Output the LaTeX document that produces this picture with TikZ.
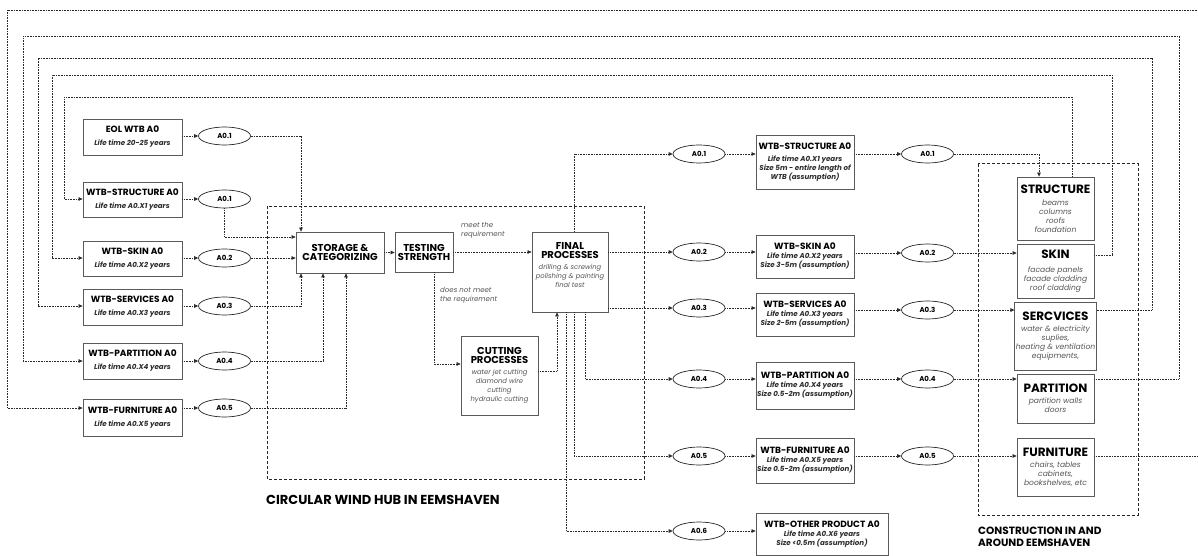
\documentclass[tikz,border=0pt]{standalone}
\usepackage{fontspec}
\setmainfont{Poppins}
\usetikzlibrary{arrows.meta,shapes.geometric}
\definecolor{frame}{HTML}{5A5A5A}
\definecolor{subtxt}{HTML}{2E2E2E}
\definecolor{desctxt}{HTML}{555555}
\definecolor{linecol}{HTML}{2A2A2A}
% one-line text helpers for the boxes
\newcommand\wtitle[1]{{\fontsize{9}{10}\selectfont\bfseries #1}}
\newcommand\wsub[1]{{\color{subtxt}\bfseries\itshape #1}}
\newcommand\ptitle[1]{{\fontsize{10}{11}\selectfont\bfseries #1}}
\newcommand\pdesc[1]{{\color{desctxt}\itshape #1}}
\newcommand\ctitle[1]{{\fontsize{12}{13}\selectfont\bfseries #1}}
\begin{document}
\begin{tikzpicture}[x=1pt,y=-1pt,
  wbox/.style={draw=frame,line width=0.8pt,fill=white,align=center,inner sep=1pt,
    font=\fontsize{7.1}{9}\selectfont},
  pbox/.style={wbox,font=\fontsize{6.8}{9}\selectfont},
  cbox/.style={wbox,minimum width=77pt,font=\fontsize{7.6}{9}\selectfont},
  oval/.style={ellipse,draw=black!85,line width=0.7pt,fill=white,inner sep=0pt,
    minimum width=52pt,minimum height=18pt,font=\fontsize{7}{8}\selectfont\bfseries},
  flow/.style={draw=linecol,line width=0.75pt,dash pattern=on 0.8pt off 0.8pt,
    -{Triangle[length=4pt,width=3.6pt]}},
  zone/.style={draw=black!85,line width=1pt,dash pattern=on 3pt off 2pt},
  note/.style={align=left,inner sep=0pt,text=desctxt,font=\fontsize{7}{9}\selectfont\itshape},
  zonelbl/.style={align=left,inner sep=0pt,font=\fontsize{13}{14}\selectfont\bfseries},
]
\useasboundingbox (0,0) rectangle (1198,556);

% ---------- zones ----------
\draw[zone] (267,206) rectangle (644,479);
\draw[zone] (978,164) rectangle (1138,515);
\node[zonelbl,anchor=west] (hublbl) at (266,500) {CIRCULAR WIND HUB IN EEMSHAVEN};
\node[zonelbl,anchor=north west,font=\fontsize{10.5}{12}\selectfont\bfseries] (conlbl) at (978,527) {CONSTRUCTION IN AND\\AROUND EEMSHAVEN};

% ---------- incoming components ----------
\node[wbox,minimum width=99pt,minimum height=36pt] (eol) at (132.5,137) {\wtitle{EOL WTB A0}\\[4pt]\wsub{Life time 20-25 years}};
\node[wbox,minimum width=99pt,minimum height=35pt] (ls) at (132.5,199.5) {\wtitle{WTB-STRUCTURE A0}\\[4pt]\wsub{Life time A0.X1 years}};
\node[wbox,minimum width=99pt,minimum height=35pt] (lk) at (132.5,258.5) {\wtitle{WTB-SKIN A0}\\[4pt]\wsub{Life time A0.X2 years}};
\node[wbox,minimum width=99pt,minimum height=36pt] (lv) at (132.5,307) {\wtitle{WTB-SERVICES A0}\\[4pt]\wsub{Life time A0.X3 years}};
\node[wbox,minimum width=99pt,minimum height=36pt] (lp) at (132.5,361) {\wtitle{WTB-PARTITION A0}\\[4pt]\wsub{Life time A0.X4 years}};
\node[wbox,minimum width=99pt,minimum height=37pt] (lf) at (132.5,417.5) {\wtitle{WTB-FURNITURE A0}\\[4pt]\wsub{Life time A0.X5 years}};

\node[oval] (e1) at (224.5,136) {A0.1};
\node[oval] (e2) at (224.5,199) {A0.1};
\node[oval] (e3) at (224.5,258) {A0.2};
\node[oval] (e4) at (224.5,306) {A0.3};
\node[oval] (e5) at (224.5,361) {A0.4};
\node[oval] (e6) at (224.5,408) {A0.5};

% ---------- hub processes ----------
\node[wbox,minimum width=88pt,minimum height=41pt] (store) at (340,252.5) {\ptitle{STORAGE \&}\\\ptitle{CATEGORIZING}};
\node[wbox,minimum width=58pt,minimum height=40pt] (test) at (424,252) {\ptitle{TESTING}\\\ptitle{STRENGTH}};
\node[pbox,minimum width=76pt,minimum height=80pt] (final) at (570,272) {\ptitle{FINAL}\\\ptitle{PROCESSES}\\[2pt]\pdesc{drilling \& screwing}\\\pdesc{polishing \& painting}\\\pdesc{final test}\\[6pt]\mbox{}};
\node[pbox,minimum width=77pt,minimum height=79pt] (cut) at (499.5,375.5) {\ptitle{CUTTING}\\\ptitle{PROCESSES}\\[2pt]\pdesc{water jet cutting}\\\pdesc{diamond wire}\\\pdesc{cutting}\\\pdesc{hydraulic cutting}};

\node[note,anchor=south west] (meet) at (461,239) {meet the\\requirement};
\node[note,anchor=north west] (nomeet) at (440,287) {does not meet\\the requirement};

% ---------- products ----------
\node[oval] (ma1) at (699,154) {A0.1};
\node[oval] (ma2) at (699,252) {A0.2};
\node[oval] (ma3) at (699,308) {A0.3};
\node[oval] (ma4) at (699,379) {A0.4};
\node[oval] (ma5) at (699,456) {A0.5};
\node[oval] (ma6) at (699,531) {A0.6};

\node[wbox,minimum width=98pt,minimum height=54pt] (ms) at (805,162) {\wtitle{WTB-STRUCTURE A0}\\[3pt]\wsub{Life time A0.X1 years}\\\wsub{Size 5m - entire length of}\\\wsub{WTB (assumption)}};
\node[wbox,minimum width=98pt,minimum height=43pt] (mk) at (805,256.5) {\wtitle{WTB-SKIN A0}\\\wsub{Life time A0.X2 years}\\\wsub{Size 3-5m (assumption)}};
\node[wbox,minimum width=98pt,minimum height=43pt] (mv) at (805,314.5) {\wtitle{WTB-SERVICES A0}\\\wsub{Life time A0.X3 years}\\\wsub{Size 2-5m (assumption)}};
\node[wbox,minimum width=98pt,minimum height=47pt] (mp) at (805,385.5) {\wtitle{WTB-PARTITION A0}\\\wsub{Life time A0.X4 years}\\\wsub{Size 0.5-2m (assumption)}};
\node[wbox,minimum width=98pt,minimum height=45pt] (mf) at (805,460.5) {\wtitle{WTB-FURNITURE A0}\\\wsub{Life time A0.X5 years}\\\wsub{Size 0.5-2m (assumption)}};
\node[wbox,minimum width=132pt,minimum height=42pt] (mo) at (822,534) {\wtitle{WTB-OTHER PRODUCT A0}\\\wsub{Life time A0.X6 years}\\\wsub{Size <0.5m (assumption)}};

\node[oval] (ra1) at (927.5,154) {A0.1};
\node[oval] (ra2) at (927.5,253) {A0.2};
\node[oval] (ra3) at (927.5,310) {A0.3};
\node[oval] (ra4) at (927.5,379) {A0.4};
\node[oval] (ra5) at (927.5,456) {A0.5};

% ---------- construction ----------
\node[cbox,minimum height=63pt] (cs) at (1055.5,208.5) {\ctitle{STRUCTURE}\\[3pt]\pdesc{beams}\\\pdesc{columns}\\\pdesc{roofs}\\\pdesc{foundation}};
\node[cbox,minimum height=54pt] (ck) at (1055.5,271) {\ctitle{SKIN}\\[5pt]\pdesc{facade panels}\\\pdesc{facade cladding}\\\pdesc{roof cladding}};
\node[cbox,minimum height=68pt] (cv) at (1055.5,336) {\ctitle{SERCVICES}\\[2pt]\pdesc{water \& electricity}\\\pdesc{suplies,}\\\pdesc{heating \& ventilation}\\\pdesc{equipments,}};
\node[cbox,minimum height=49pt] (cp) at (1055.5,398.5) {\ctitle{PARTITION}\\[2pt]\pdesc{partition walls}\\\pdesc{doors}};
\node[cbox,minimum height=58pt] (cf) at (1055.5,467) {\ctitle{FURNITURE}\\[2pt]\pdesc{chairs, tables}\\\pdesc{cabinets,}\\\pdesc{bookshelves, etc}};

% ---------- routing points ----------
\coordinate (sa) at (301,0);
\coordinate (sb) at (0,237);
\coordinate (sc) at (323,0);
\coordinate (sd) at (346,0);
\coordinate (tj) at (434,364);
\coordinate (cj) at (557,371);
\coordinate (fo1) at (574,0);
\coordinate (fo4) at (585,0);
\coordinate (fo5) at (574,0);
\coordinate (fo6) at (566,0);
\coordinate (cx) at (1039,0);

% ---------- component flows ----------
\draw[flow] (eol.east |- e1) -- (e1.west);
\draw[flow] (ls.east |- e2) -- (e2.west);
\draw[flow] (lk.east |- e3) -- (e3.west);
\draw[flow] (lv.east |- e4) -- (e4.west);
\draw[flow] (lp.east |- e5) -- (e5.west);
\draw[flow] (lf.east |- e6) -- (e6.west);

\draw[flow] (e1.east) -| (sa |- store.north);
\draw[flow] (e2.south) |- (store.west |- sb);
\draw[flow] (e3.east) -- (store.west |- e3.east);
\draw[flow] (e4.east) -| (sa |- store.south);
\draw[flow] (e5.east) -| (sc |- store.south);
\draw[flow] (e6.east) -| (sd |- store.south);

\draw[flow] (store.east) -- (store.east -| test.west);
\draw[flow] (test.east) -- (test.east -| final.west);
\draw[flow] (tj |- test.south) -- (tj) -- (cut.west |- tj);
\draw[flow] (cut.east |- cj) -- (cj) -- (cj |- final.south);

\draw[flow] (fo1 |- final.north) |- (ma1.west);
\draw[flow] (final.east |- ma2) -- (ma2.west);
\draw[flow] (final.east |- ma3) -- (ma3.west);
\draw[flow] (fo4 |- final.south) |- (ma4.west);
\draw[flow] (fo5 |- final.south) |- (ma5.west);
\draw[flow] (fo6 |- final.south) |- (ma6.west);

\draw[flow] (ma1.east) -- (ms.west |- ma1);
\draw[flow] (ma2.east) -- (mk.west |- ma2);
\draw[flow] (ma3.east) -- (mv.west |- ma3);
\draw[flow] (ma4.east) -- (mp.west |- ma4);
\draw[flow] (ma5.east) -- (mf.west |- ma5);
\draw[flow] (ma6.east) -- (mo.west |- ma6);

\draw[flow] (ms.east |- ra1) -- (ra1.west);
\draw[flow] (mk.east |- ra2) -- (ra2.west);
\draw[flow] (mv.east |- ra3) -- (ra3.west);
\draw[flow] (mp.east |- ra4) -- (ra4.west);
\draw[flow] (mf.east |- ra5) -- (ra5.west);

\draw[flow] (ra1.east) -| (cx |- cs.north);
\draw[flow] (ra2.east) -- (ck.west |- ra2);
\draw[flow] (ra3.east) -- (cv.west |- ra3);
\draw[flow] (ra4.east) -- (cp.west |- ra4);
\draw[flow] (ra5.east) -- (cf.west |- ra5);

% ---------- return loops ----------
\coordinate (q1r) at (1072,97);  \coordinate (q1l) at (64,97);
\coordinate (q2r) at (1112,75);  \coordinate (q2l) at (52,75);  \coordinate (q2y) at (0,255);
\coordinate (q3r) at (1152,58);  \coordinate (q3l) at (38,58);  \coordinate (q3y) at (0,310);
\coordinate (q4r) at (1179,36);  \coordinate (q4l) at (23,36);
\coordinate (q5r) at (1206,10);  \coordinate (q5l) at (7,10);

\draw[flow] (q1r |- cs.north) -- (q1r) -- (q1l) -- (q1l |- e2) -- (ls.west |- e2);
\draw[flow] (ck.east |- q2y) -- (q2r |- q2y) -- (q2r) -- (q2l) -- (q2l |- e3) -- (lk.west |- e3);
\draw[flow] (cv.east |- q3y) -- (q3r |- q3y) -- (q3r) -- (q3l) -- (q3l |- e4) -- (lv.west |- e4);
\draw[flow] (cp.east |- ra4) -- (q4r |- ra4) -- (q4r) -- (q4l) -- (q4l |- e5) -- (lp.west |- e5);
\draw[flow] (cf.east |- ra5) -- (q5r |- ra5) -- (q5r) -- (q5l) -- (q5l |- e6) -- (lf.west |- e6);
\end{tikzpicture}
\end{document}
